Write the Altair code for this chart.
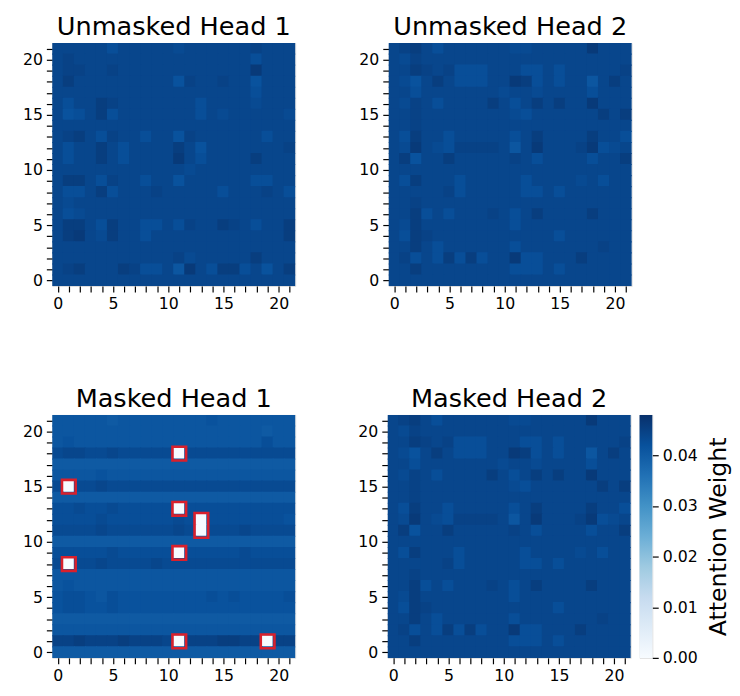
import altair as alt
import pandas as pd

# ---------------- data ----------------
# Each grid: 22 rows listed from y=21 (top) down to y=0, one character per x=0..21.
# Digit d -> attention weight 0.0395 + 0.00075*d ; 'x' -> masked cell (weight 0).
UNMASKED_HEAD_1 = [
    "6666646666656666667666",
    "6766666666666666664666",
    "6776676666666666669666",
    "6866666666637667663666",
    "6666666666666666664666",
    "6466876666666466665666",
    "6346846666666465666665",
    "6666666666666666666666",
    "6786476646637666666466",
    "6466864666686366666667",
    "6466864666696466668666",
    "6666666666665666666666",
    "6886476646636666664466",
    "6446846667666664666764",
    "6566666666666666666666",
    "6456666666666666666666",
    "6886486644647668764668",
    "6896586646666666666668",
    "6666666666666666666666",
    "6666666666675666668666",
    "6786668744629648846368",
    "6666666666666666666666",
]
UNMASKED_HEAD_2 = [
    "6786466666655666669666",
    "6576666666666666666666",
    "6687674446664464666667",
    "6536864446698464662686",
    "6646666666566566664666",
    "6576466668646868669666",
    "6676666666654666666868",
    "6676666666666666666666",
    "6486646666646866668664",
    "6596547777626966679456",
    "6836686666676466664668",
    "6666666666666666666666",
    "6486664666664666656466",
    "6666674666664464666666",
    "6676666666666666666666",
    "6684646667646866668666",
    "6586666666646666666666",
    "6487666666666664666666",
    "6686466666646666666766",
    "6746484846694466686666",
    "6686666666644464666666",
    "6666666666666666666666",
]
MASKED_HEAD_1 = [
    "2222212222222232222222",
    "2222222222222222222122",
    "2322222222222222222422",
    "56655655555x5555555555",
    "1111111111111111111111",
    "2222322222222222222222",
    "5x55655555555555555555",
    "1111111111111111111111",
    "44544544444x4444444444",
    "4444544444454x44444443",
    "5555655555565x55565555",
    "1111111111111111111111",
    "44444544444x4444454444",
    "5x55655556555555555555",
    "2222222222222222222222",
    "2322222222222222222222",
    "3443243333333343433334",
    "3443343333333333333333",
    "1111111111111111111111",
    "2222222222222222222222",
    "77877787776x7778877x77",
    "1111111111111111111111",
]
MASKED_HEAD_2 = UNMASKED_HEAD_2  # identical in the picture

PANEL_TITLES = ["Unmasked Head 1", "Unmasked Head 2", "Masked Head 1", "Masked Head 2"]
PANEL_GRIDS = [UNMASKED_HEAD_1, UNMASKED_HEAD_2, MASKED_HEAD_1, MASKED_HEAD_2]

# masked regions outlined in red on "Masked Head 1": (x, y_low, y_high)
MASK_X = [1, 1, 11, 11, 11, 11, 13, 19]
MASK_YLO = [15, 8, 18, 13, 9, 1, 11, 1]
MASK_YHI = [15, 8, 18, 13, 9, 1, 12, 1]

BASE_W = 0.0395
STEP_W = 0.00075
CMAX = 0.048
CBAR_TICKS = [0.0, 0.01, 0.02, 0.03, 0.04]
TICK_VALUES = list(range(22))

# matplotlib "Blues"
BLUES = ["#f7fbff", "#deebf7", "#c6dbef", "#9ecae1", "#6baed6",
         "#4292c6", "#2171b5", "#08519c", "#08306b"]

# ---------------- build ----------------
N = 22
FONT = "DejaVu Sans"
PW = 247
PH = 247
OVERLAP = 0.05  # tiny overlap so neighbouring cells leave no hairline seams

for g in PANEL_GRIDS:
    assert len(g) == N and all(len(r) == N for r in g)

cdomain = [CMAX * i / (len(BLUES) - 1) for i in range(len(BLUES))]
cscale = alt.Scale(domain=cdomain, range=BLUES, interpolate="rgb", clamp=True)

label_expr = "datum.value % 5 === 0 ? datum.label : ''"


def axis(orient):
    return alt.Axis(
        orient=orient, values=TICK_VALUES, labelExpr=label_expr, title=None,
        tickSize=6, tickWidth=1.2, tickColor="black", domain=False, grid=False,
        labelFontSize=16, labelFont=FONT, labelColor="black", labelPadding=4,
        labelOverlap=False, labelFlush=False, labelAngle=0,
    )


def grid_frame(grid):
    recs = []
    for i, row in enumerate(grid):
        y = N - 1 - i
        for x, ch in enumerate(row):
            v = 0.0 if ch == "x" else BASE_W + STEP_W * int(ch)
            recs.append({"x0": x - 0.5 - OVERLAP, "x1": x + 0.5 + OVERLAP,
                         "y0": y - 0.5 - OVERLAP, "y1": y + 0.5 + OVERLAP, "v": v})
    return pd.DataFrame(recs)


xs = alt.Scale(domain=[-0.5, N - 0.5], nice=False, zero=False)
ys = alt.Scale(domain=[-0.5, N - 0.5], nice=False, zero=False)


def panel(title, grid, with_mask=False):
    df = grid_frame(grid)
    heat = alt.Chart(df).mark_rect(strokeWidth=0, clip=True).encode(
        x=alt.X("x0:Q", scale=xs, axis=axis("bottom")),
        x2="x1:Q",
        y=alt.Y("y0:Q", scale=ys, axis=axis("left")),
        y2="y1:Q",
        color=alt.Color("v:Q", scale=cscale, legend=None),
    )
    layers = [heat]
    if with_mask:
        pad = 0.62
        mdf = pd.DataFrame({"x": MASK_X, "ylo": MASK_YLO, "yhi": MASK_YHI})
        mdf["bx0"] = mdf["x"] - pad
        mdf["bx1"] = mdf["x"] + pad
        mdf["by0"] = mdf["ylo"] - pad
        mdf["by1"] = mdf["yhi"] + pad
        box = alt.Chart(mdf).mark_rect(filled=False, stroke="#d9202c", strokeWidth=2.6).encode(
            x=alt.X("bx0:Q", scale=xs, axis=axis("bottom")), x2="bx1:Q",
            y=alt.Y("by0:Q", scale=ys, axis=axis("left")), y2="by1:Q",
        )
        layers.append(box)
    return alt.layer(*layers).properties(
        width=PW, height=PH,
        title=alt.TitleParams(title, fontSize=26, font=FONT, fontWeight="normal",
                              color="black", offset=1),
    )


p1 = panel(PANEL_TITLES[0], PANEL_GRIDS[0])
p2 = panel(PANEL_TITLES[1], PANEL_GRIDS[1])
p3 = panel(PANEL_TITLES[2], PANEL_GRIDS[2], with_mask=True)
p4 = panel(PANEL_TITLES[3], PANEL_GRIDS[3])

gradient = {
    "gradient": "linear", "x1": 0, "x2": 0, "y1": 1, "y2": 0,
    "stops": [{"offset": i / (len(BLUES) - 1), "color": c} for i, c in enumerate(BLUES)],
}
cb = alt.Chart(pd.DataFrame({"lo": [0.0], "hi": [CMAX]})).mark_rect(color=gradient).encode(
    x=alt.value(0), x2=alt.value(13),
    y=alt.Y("lo:Q", scale=alt.Scale(domain=[0, CMAX], nice=False, zero=True),
            axis=alt.Axis(orient="right", values=CBAR_TICKS, format=".2f",
                          title="Attention Weight", titleAngle=270, titleBaseline="top",
                          titleFontSize=24, titleFont=FONT, titleFontWeight="normal",
                          titleColor="black", titlePadding=10,
                          tickSize=6, tickWidth=1.2, tickColor="black", domain=False,
                          grid=False, labelFontSize=16, labelFont=FONT, labelColor="black",
                          labelPadding=4, labelFlush=False, labelOverlap=False)),
    y2="hi:Q",
).properties(width=13, height=PH)

top = alt.hconcat(p1, p2, spacing=63)
bottom = alt.hconcat(p3, alt.hconcat(p4, cb, spacing=7), spacing=62)

chart = alt.vconcat(top, bottom, spacing=74).properties(
    padding={"left": 14, "top": 0, "right": 0, "bottom": 0}
).configure_view(stroke="black", strokeWidth=1.2).configure(background="white")

chart.save("out.html", embed_options={"renderer": "svg", "actions": False})
